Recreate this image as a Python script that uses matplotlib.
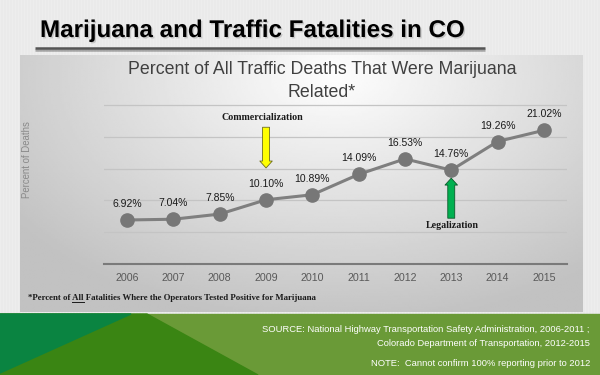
import matplotlib
matplotlib.use('Agg')
import matplotlib.pyplot as plt
import matplotlib.patheffects as pe
from matplotlib.patches import Polygon, Rectangle
import numpy as np

# data
years = [2006, 2007, 2008, 2009, 2010, 2011, 2012, 2013, 2014, 2015]
pct = [6.92, 7.04, 7.85, 10.10, 10.89, 14.09, 16.53, 14.76, 19.26, 21.02]
grid_vals = [5, 10, 15, 20, 25]
commercial_year = 2009
legal_year = 2013

slide_title = 'Marijuana and Traffic Fatalities in CO'
chart_title = 'Percent of All Traffic Deaths That Were Marijuana\nRelated*'
source_lines = ['SOURCE: National Highway Transportation Safety Administration, 2006-2011 ;',
                'Colorado Department of Transportation, 2012-2015']
note_line = 'NOTE:  Cannot confirm 100% reporting prior to 2012'

NARROW = ['Liberation Sans Narrow', 'Liberation Sans', 'DejaVu Sans']
SANS = ['Liberation Sans', 'DejaVu Sans']
SERIF = ['Liberation Serif', 'DejaVu Serif']

W, H = 600, 375
fig = plt.figure(figsize=(6, 3.75), dpi=100)
fig.patch.set_facecolor('#e8ebeb')

# pixel-space background layer
bg = fig.add_axes([0, 0, 1, 1])
bg.set_xlim(0, W)
bg.set_ylim(H, 0)
bg.axis('off')

# faint vertical stripes on slide background
stripes = 0.915 + 0.012 * (np.arange(W) % 3 == 0)
bg.imshow(np.tile(stripes, (4, 1)), cmap='gray', vmin=0, vmax=1,
          extent=(0, W, H, 0), aspect='auto', interpolation='nearest', zorder=0)

# chart panel with soft gradient
gx, gy = np.meshgrid(np.linspace(0, 1, 300), np.linspace(0, 1, 140))
d = np.sqrt(((gx - 0.56) / 0.72) ** 2 + ((gy - 0.08) / 1.0) ** 2)
shade = np.clip(0.995 - 0.24 * d, 0.76, 0.99)
bg.imshow(shade, cmap='gray', vmin=0, vmax=1, extent=(20, 583, 312, 55),
          aspect='auto', interpolation='bilinear', zorder=1)

# green footer band
bg.add_patch(Rectangle((0, 314), W, H - 314, color='#6a9a37', zorder=1))
bg.add_patch(Polygon([(0, 314), (147, 314), (258, H), (0, H)], color='#3a8513', zorder=2))
bg.add_patch(Polygon([(0, 314), (131, 314), (0, 373)], color='#0a8441', zorder=3))

# slide title and underline
shadow = [pe.SimplePatchShadow(offset=(1, -1), shadow_rgbFace='#9a9a9a', alpha=0.45), pe.Normal()]
t_main = bg.text(40, 37, slide_title, fontsize=19, fontweight='bold', family=NARROW,
                 color='black', va='baseline', ha='left', zorder=5, path_effects=shadow)
bg.plot([35, 485], [48, 48], color='#555555', lw=1.8, zorder=5, solid_capstyle='butt',
        path_effects=[pe.SimpleLineShadow(offset=(0, -1.2), alpha=0.3), pe.Normal()])

# chart title
t_chart = bg.text(322, 81, chart_title, fontsize=13, family=NARROW, color='#404040',
                  ha='center', va='center', multialignment='center', linespacing=1.5, zorder=5)

# footnote and sources
t_foot = bg.text(28, 298, '*Percent of All Fatalities Where the Operators Tested Positive for Marijuana',
                 fontsize=6.3, family=SERIF, fontweight='bold', color='#1a1a1a', va='center', zorder=5)
t_src = bg.text(590, 329, source_lines[0], fontsize=6.3, family=NARROW, color='white', ha='right', va='center', zorder=5)
t_src2 = bg.text(590, 343, source_lines[1], fontsize=6.3, family=NARROW, color='white', ha='right', va='center', zorder=5)
t_note = bg.text(590, 363, note_line, fontsize=6.3, family=NARROW, color='white', ha='right', va='center', zorder=5)

# y axis label
bg.text(27, 160, 'Percent of Deaths', rotation=90, fontsize=6.9, family=SANS, color='#8a8a8a',
        ha='center', va='center', zorder=5)

# plot axes: x axis line at 264 px, 25% gridline at 105 px
ppu = (264 - 105) / 25.0
ytop = 25.3
ax = fig.add_axes([104 / W, (H - 264) / H, (567 - 104) / W, ytop * ppu / H])
ax.patch.set_alpha(0)
ax.set_xlim(2005.5, 2015.5)
ax.set_ylim(0, ytop)
ax.set_yticks(grid_vals)
ax.yaxis.grid(True, color='#c4c4c4', lw=0.9)
ax.set_axisbelow(True)
ax.tick_params(axis='y', length=0, labelleft=False)
for s in ['top', 'left', 'right']:
    ax.spines[s].set_visible(False)
ax.spines['bottom'].set_color('#7a7a7a')
ax.spines['bottom'].set_linewidth(1.5)
ax.set_xticks(years)
ax.set_xticklabels([str(y) for y in years], fontsize=7.7, color='#595959', family=SANS)
ax.tick_params(axis='x', length=0, pad=6.5)

ax.plot(years, pct, color='#7f7f7f', lw=2.2, marker='o', ms=9.5,
        mfc='#777777', mec='#777777', zorder=3)
for x, y in zip(years, pct):
    ax.annotate(f'{y:.2f}%', (x, y), xytext=(0, 11.5), textcoords='offset points',
                ha='center', va='center', fontsize=7.5, color='#1a1a1a', family=SANS)

# event arrows
ax.text(commercial_year - 0.09, 23.1, 'Commercialization', fontsize=7.2, family=SERIF,
        fontweight='bold', color='#1a1a1a', ha='center', va='center')
ax.annotate('', xy=(commercial_year, 15.1), xytext=(commercial_year, 21.5),
            arrowprops=dict(arrowstyle='simple,head_width=0.9,head_length=0.5,tail_width=0.5',
                            fc='#ffff00', ec='#6b6b20', lw=0.6, shrinkA=0, shrinkB=0))
ax.text(legal_year + 0.03, 6.0, 'Legalization', fontsize=7.2, family=SERIF,
        fontweight='bold', color='#1a1a1a', ha='center', va='center')
ax.annotate('', xy=(legal_year, 13.5), xytext=(legal_year, 7.2),
            arrowprops=dict(arrowstyle='simple,head_width=0.9,head_length=0.5,tail_width=0.5',
                            fc='#00b050', ec='#0b5a2a', lw=0.6, shrinkA=0, shrinkB=0))

# fit text widths to the slide
renderer = fig.canvas.get_renderer()
def fit(t, target):
    w = t.get_window_extent(renderer).width
    t.set_fontsize(t.get_fontsize() * target / w)

fit(t_main, 425)
fit(t_foot, 290)
fit(t_chart, 388)
fit(t_src, 326)
t_src2.set_fontsize(t_src.get_fontsize())
t_note.set_fontsize(t_src.get_fontsize())

# underline "All" in the footnote
probe = bg.text(0, 0, '*Percent of All', fontsize=t_foot.get_fontsize(), family=SERIF, fontweight='bold')
probe2 = bg.text(0, 0, 'All', fontsize=t_foot.get_fontsize(), family=SERIF, fontweight='bold')
w1 = probe.get_window_extent(renderer).width
w2 = probe2.get_window_extent(renderer).width
probe.remove()
probe2.remove()
bg.plot([28 + w1 - w2, 28 + w1], [302, 302], color='#1a1a1a', lw=0.7, zorder=5)

fig.savefig('out.png', dpi=100, facecolor=fig.get_facecolor())
